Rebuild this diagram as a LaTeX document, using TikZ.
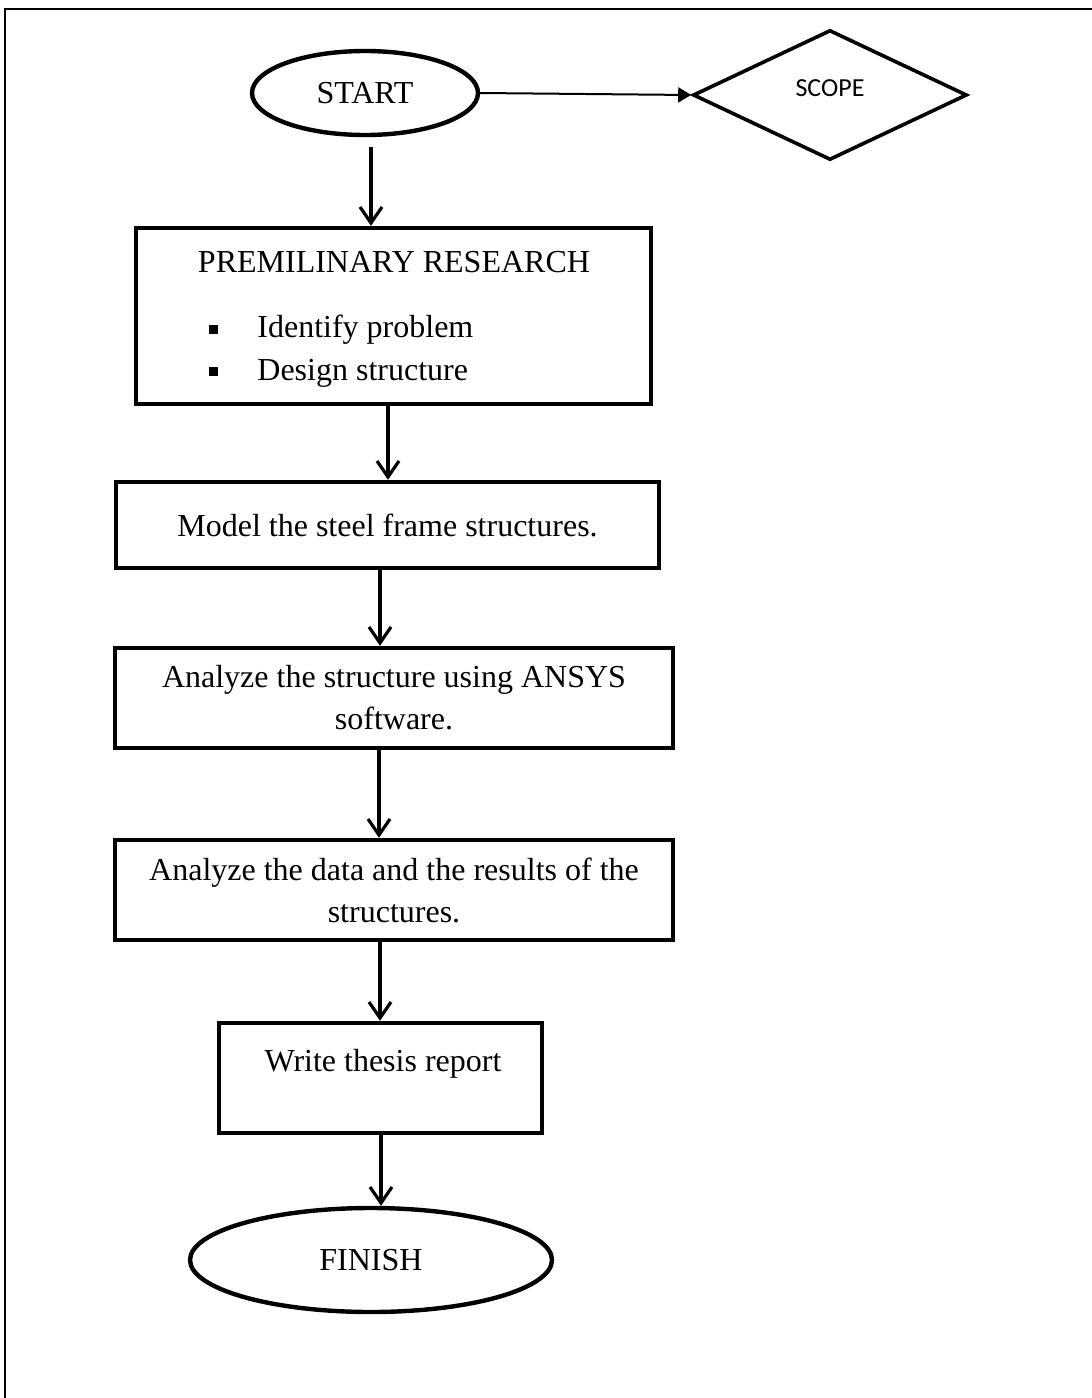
\documentclass[tikz,border=0pt]{standalone}
\usepackage{fontspec}
\setmainfont{Liberation Serif}
\newfontfamily\scopefont{Carlito}
\usetikzlibrary{arrows.meta, shapes.geometric, positioning}

\begin{document}
\begin{tikzpicture}[
          x=0.5pt, y=-0.5pt,
          terminal/.style={
              draw,
              ellipse,
              line width=2.2pt,
              inner sep=0pt,
              font=\fontsize{16}{21}\selectfont
            },
          stepbox/.style={
              draw,
              rectangle,
              line width=2.2pt,
              inner sep=0pt,
              align=center,
              font=\fontsize{16}{21}\selectfont
            },
          decision/.style={
              draw,
              diamond,
              line width=1.8pt,
              inner sep=0pt,
              text height=8.4pt,
              text depth=7pt,
              font=\fontsize{13}{16}\selectfont\scopefont
            },
          txt/.style={inner sep=0pt, font=\fontsize{16}{21}\selectfont},
          arr/.style={-{Straight Barb[length=8pt, width=11pt]}, line width=1.6pt},
          side/.style={-{Triangle[length=6.5pt, width=7.5pt]}, line width=1pt},
          frame/.style={line width=1pt}
        ]
        \useasboundingbox (0,0) rectangle (1092,1398);
        \draw[frame] (1092,9) -- (5,9) -- (5,1398);

        \node[terminal, minimum width=113pt, minimum height=42pt] (start) at (365,93) {START};
        \node[decision, minimum width=137pt, minimum height=65pt] (scope) at (830,95) {SCOPE};

        \node[stepbox, minimum width=257.5pt, minimum height=88pt] (prelim) at (393.5,316) {};
        \node[txt] (prelim_title) at (394,262) {PREMILINARY RESEARCH};
        \node[txt, anchor=west] (prelim_item1) at (209,330) {\rule[0.25ex]{4.5pt}{4.5pt}\hspace{19.5pt}Identify problem};
        \node[txt, anchor=west] (prelim_item2) at (209,373) {\rule[0.25ex]{4.5pt}{4.5pt}\hspace{19.5pt}Design structure};

        \node[stepbox, minimum width=271.5pt, minimum height=43pt] (model) at (387.5,525) {Model the steel frame structures.};
        \node[stepbox, minimum width=279pt, minimum height=50pt] (ansys) at (394,698) {Analyze the structure using ANSYS\\software.};
        \node[stepbox, minimum width=279pt, minimum height=50pt] (data) at (394,890) {Analyze the data and the results of the\\structures.};

        \node[stepbox, minimum width=161.5pt, minimum height=55pt] (write) at (380.5,1078) {};
        \node[txt] (write_text) at (383,1064) {Write thesis report};

        \node[terminal, minimum width=181pt, minimum height=52pt] (finish) at (371,1260) {FINISH};

        \coordinate (start_out) at (371,147);
        \draw[side] (start.east) -- (scope.west);
        \draw[arr] (start_out) -- (start_out |- prelim.north);
        \draw[arr] (prelim.south -| 388,0) -- (model.north -| 388,0);
        \draw[arr] (model.south -| 380,0) -- (ansys.north -| 380,0);
        \draw[arr] (ansys.south -| 379,0) -- (data.north -| 379,0);
        \draw[arr] (data.south -| 380,0) -- (write.north -| 380,0);
        \draw[arr] (write.south -| 381,0) -- (finish.north -| 381,0);
      \end{tikzpicture}
\end{document}
